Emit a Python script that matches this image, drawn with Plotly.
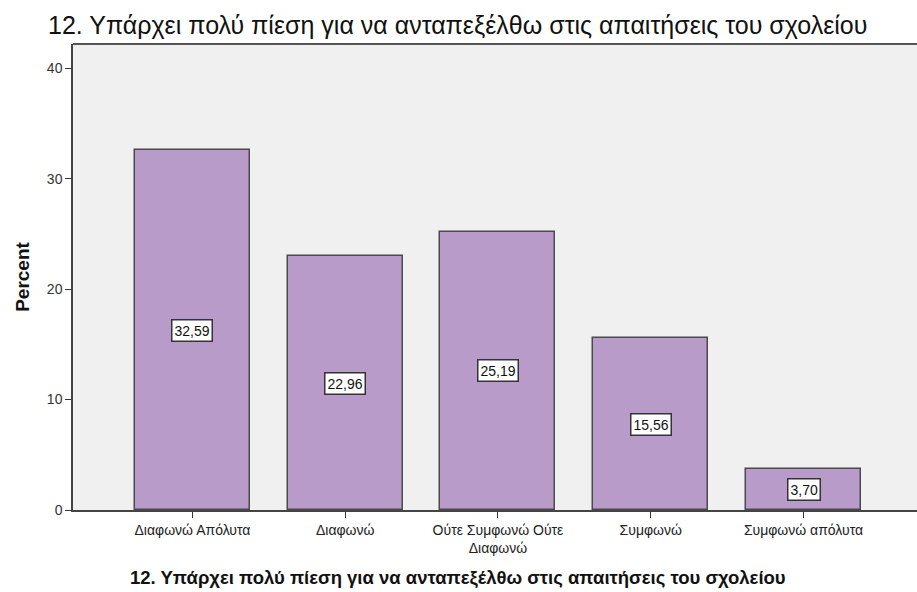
import plotly.graph_objects as go

# Responses to item 12 (percent of respondents)
categories = ["Διαφωνώ Απόλυτα", "Διαφωνώ", "Ούτε Συμφωνώ Ούτε<br>Διαφωνώ", "Συμφωνώ", "Συμφωνώ απόλυτα"]
percents = [32.59, 22.96, 25.19, 15.56, 3.70]
y_ticks = [0, 10, 20, 30, 40]

title_text = "12. Υπάρχει πολύ πίεση για να ανταπεξέλθω στις απαιτήσεις του σχολείου"
FONT = "Arial, Liberation Sans, sans-serif"

fig = go.Figure()
fig.add_trace(go.Bar(
    x=list(range(len(categories))),
    y=percents,
    width=0.753,
    marker=dict(color="#B89BC8", line=dict(color="#4a4a4a", width=1.5)),
    hoverinfo="skip",
))

# value labels boxed at mid-height of each bar
for i, v in enumerate(percents):
    fig.add_annotation(
        x=i, y=v / 2, text=f"{v:.2f}".replace(".", ","),
        showarrow=False, bgcolor="white", bordercolor="#333333",
        borderwidth=1.5, borderpad=2,
        font=dict(family=FONT, size=14, color="#111111"),
    )

# chart title (top), centred on the whole figure
fig.add_annotation(
    x=0.456, y=1, xref="paper", yref="paper", yshift=3, yanchor="bottom",
    xanchor="center", text=title_text, showarrow=False,
    font=dict(family=FONT, size=25, color="#111111"),
)

# category axis title (bottom), centred on the whole figure
fig.add_annotation(
    x=0.456, y=-0.146, xref="paper", yref="paper", yanchor="middle",
    xanchor="center", text="<b>" + title_text + "</b>", showarrow=False,
    font=dict(family=FONT, size=18.5, color="#111111"),
)

fig.update_layout(
    width=917, height=592,
    margin=dict(l=73, r=0, t=44, b=82),
    paper_bgcolor="white",
    plot_bgcolor="#F0F0F0",
    showlegend=False,
    bargap=0,
    font=dict(family=FONT, size=12, color="#333333"),
    xaxis=dict(
        tickmode="array", tickvals=list(range(len(categories))), ticktext=categories,
        range=[-0.782, 4.743],
        ticks="outside", ticklen=6, tickcolor="#333333", tickwidth=1,
        showline=True, linecolor="#444444", linewidth=1.5, mirror=False,
        showgrid=False, zeroline=False,
        tickfont=dict(family=FONT, size=14, color="#222222"),
    ),
    yaxis=dict(
        range=[0, 42.2], tickvals=y_ticks,
        ticks="outside", ticklen=6, tickcolor="#333333", tickwidth=1,
        showline=True, linecolor="#444444", linewidth=1.5,
        showgrid=False, zeroline=False,
        tickfont=dict(family=FONT, size=14, color="#333333"),
        title=dict(text="<b>Percent</b>", standoff=12,
                   font=dict(family=FONT, size=19, color="#111111")),
    ),
)

# top border of the plot frame
fig.add_shape(type="line", xref="paper", yref="paper", x0=0, x1=1, y0=1, y1=1,
              line=dict(color="#555555", width=2))

fig.write_html("out.html")
